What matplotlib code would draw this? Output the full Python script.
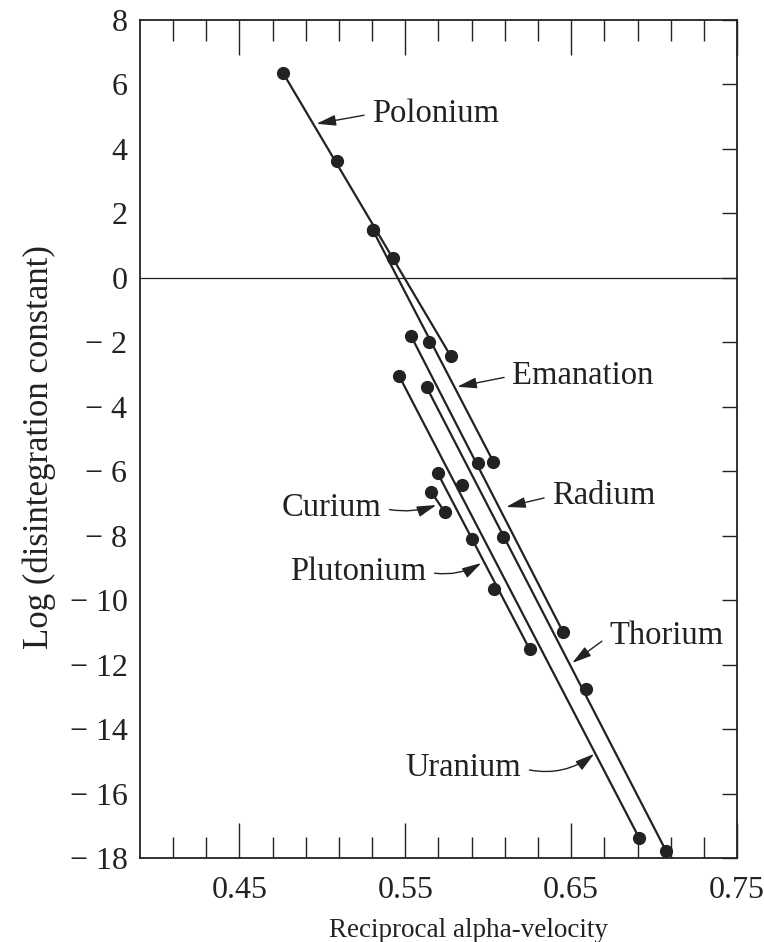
import matplotlib
matplotlib.use("Agg")
import matplotlib.pyplot as plt
import numpy as np

plt.rcParams['font.family'] = ['Liberation Serif', 'DejaVu Serif']

# 各元素同位素的数据点 (reciprocal alpha-velocity, log lambda)
polonium_x = [0.4761, 0.5086, 0.5303, 0.5423, 0.5775]
polonium_y = [6.37, 3.63, 1.49, 0.61, -2.44]
emanation_x = [0.5303, 0.5640, 0.6030]
emanation_y = [1.49, -1.98, -5.70]
radium_x = [0.5534, 0.5936, 0.6452]
radium_y = [-1.80, -5.73, -11.00]
thorium_x = [0.5628, 0.6087, 0.6590, 0.7072]
thorium_y = [-3.39, -8.05, -12.76, -17.78]
uranium_x = [0.5464, 0.5842, 0.6910]
uranium_y = [-3.06, -6.42, -17.38]
plutonium_x = [0.5695, 0.5901, 0.6033, 0.6250]
plutonium_y = [-6.06, -8.09, -9.66, -11.53]
curium_x = [0.5655, 0.5739]
curium_y = [-6.63, -7.28]

series = [
    (polonium_x, polonium_y),
    (emanation_x, emanation_y),
    (radium_x, radium_y),
    (thorium_x, thorium_y),
    (uranium_x, uranium_y),
    (plutonium_x, plutonium_y),
    (curium_x, curium_y),
]

# 标注: 名称, 箭头指向, 文字位置, 对齐, 弯曲
labels = ['Polonium', 'Emanation', 'Radium', 'Curium', 'Plutonium', 'Thorium', 'Uranium']
label_tips = [(0.4964, 4.78), (0.5813, -3.38), (0.6108, -7.11), (0.5687, -7.05),
              (0.5958, -8.85), (0.6506, -11.95), (0.6639, -14.77)]
label_pos = [(0.5301, 5.09), (0.6145, -3.04), (0.6386, -6.77), (0.5355, -7.14),
             (0.5627, -9.12), (0.6729, -11.11), (0.6199, -15.21)]
label_side = ['left', 'left', 'left', 'right', 'right', 'left', 'right']
label_rad = [0.0, 0.0, 0.0, 0.15, 0.2, 0.0, 0.25]

ink = '#222222'

fig = plt.figure(figsize=(7.64, 9.42), dpi=100)
ax = fig.add_axes([0.1832, 0.0892, 0.7815, 0.8896])

ax.axhline(0, color=ink, lw=0.9)

for xs, ys in series:
    # 直线连接首尾两点, 数据点画成圆点
    ax.plot([xs[0], xs[-1]], [ys[0], ys[-1]], color=ink, lw=1.6, solid_capstyle='butt')
    ax.plot(xs, ys, 'o', color=ink, ms=8.5, mec=ink)

for name, tip, pos, side, rad in zip(labels, label_tips, label_pos, label_side, label_rad):
    rel = (0, 0.5) if side == 'left' else (1, 0.5)
    ax.annotate(name, xy=tip, xytext=pos, ha=side, va='center', fontsize=23.5, color=ink,
                arrowprops=dict(arrowstyle='-|>,head_length=0.5,head_width=0.14', color=ink,
                                lw=1.0, shrinkA=4, shrinkB=0, relpos=rel,
                                connectionstyle=f'arc3,rad={rad}'))

ax.set_xlim(0.39, 0.75)
ax.set_ylim(-18, 8)

ax.set_xticks([0.45, 0.55, 0.65, 0.75])
ax.set_xticklabels(['0.45', '0.55', '0.65', '0.75'])
ax.set_xticks(np.arange(0.41, 0.74, 0.02), minor=True)
ax.tick_params(axis='x', which='both', direction='in', top=True, bottom=True,
               width=1.0, color=ink, labelsize=23, labelcolor=ink, pad=13)
ax.tick_params(axis='x', which='major', length=25)
ax.tick_params(axis='x', which='minor', length=15)

yt = np.arange(-18, 9, 2)
ax.set_yticks(yt)
ax.set_yticklabels([str(v) if v >= 0 else '\u2212 ' + str(-v) for v in yt])
ax.tick_params(axis='y', direction='in', left=False, right=True, length=11, width=1.0,
               color=ink, labelsize=23, labelcolor=ink, pad=9)

for s in ax.spines.values():
    s.set_color(ink)
    s.set_linewidth(1.3)

ax.set_xlabel('Reciprocal alpha-velocity', fontsize=19.5, color=ink)
ax.xaxis.set_label_coords(0.55, -0.072)
ax.set_ylabel('Log (disintegration constant)', fontsize=25, color=ink)
ax.yaxis.set_label_coords(-0.14, 0.49)

fig.savefig('out.png', dpi=100, facecolor='white')
